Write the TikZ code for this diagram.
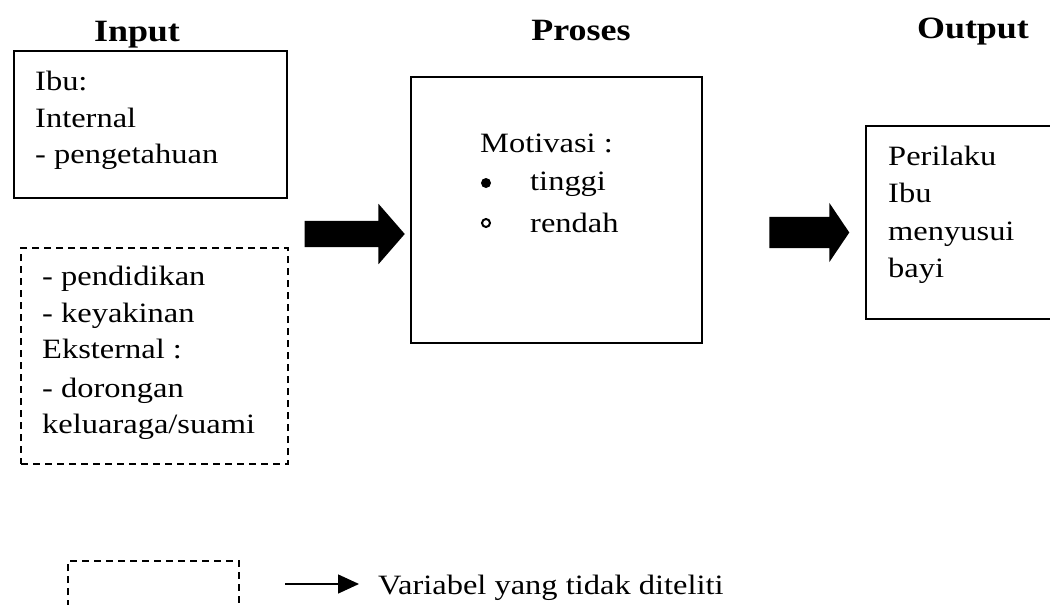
\documentclass[tikz,border=0pt]{standalone}
\usepackage{fontspec}
\setmainfont[FakeStretch=1.16]{Liberation Serif}
\usetikzlibrary{shapes.arrows,arrows.meta}
\tikzset{
  title/.style={anchor=base, inner sep=0pt, font=\fontsize{31}{37}\selectfont\bfseries},
  txt/.style={anchor=base west, inner sep=0pt, font=\fontsize{28}{37}\selectfont},
  solidbox/.style={draw=black, line width=2pt},
  dashbox/.style={draw=black, line width=2pt, dash pattern=on 7pt off 5pt},
  blockarrow/.style={single arrow, fill=black, draw=none, inner xsep=0pt, minimum width=0pt, minimum height=#1},
  dotb/.style={circle, fill=black, inner sep=0pt, minimum size=10pt},
  dotw/.style={circle, draw=black, line width=2pt, fill=white, inner sep=0pt, minimum size=8pt}
}
\begin{document}
\begin{tikzpicture}[x=1pt,y=-1pt]
\useasboundingbox (0,0) rectangle (1050,605);
\fill[white] (0,0) rectangle (1050,605);
% titles
\node[title] (tin) at (137,41) {Input};
\node[title] (tpr) at (581,40) {Proses};
\node[title] (tout) at (973,38) {Output};
% input box (solid)
\node[solidbox, anchor=north west, minimum width=273pt, minimum height=147pt, inner sep=0pt] (ibu) at (13,50) {};
\node[txt] (i1) at (35,90) {Ibu:};
\node[txt] (i2) at (35,127) {Internal};
\node[txt] (i3) at (35,163) {- pengetahuan};
% dashed input box
\node[dashbox, anchor=north west, minimum width=267pt, minimum height=216pt, inner sep=0pt] (ext) at (20,247) {};
\node[txt] (e1) at (42,285) {- pendidikan};
\node[txt] (e2) at (42,322) {- keyakinan};
\node[txt] (e3) at (42,358) {Eksternal :};
\node[txt] (e4) at (42,397) {- dorongan};
\node[txt] (e5) at (42,433) {keluaraga/suami};
% arrow 1
\node[blockarrow=100pt, inner ysep=13pt, single arrow head extend=17pt, single arrow tip angle=98] (a1) at (349,234) {};
% proses box
\node[solidbox, anchor=north west, minimum width=291pt, minimum height=266pt, inner sep=0pt] (pro) at (410,76) {};
\node[txt] (m1) at (480,152) {Motivasi :};
\node[dotb] (b1) at (486,183) {};
\node[txt] (m2) at (530,190) {tinggi};
\node[dotw] (b2) at (486,223) {};
\node[txt] (m3) at (530,232) {rendah};
% arrow 2
\node[blockarrow=80pt, inner ysep=15.5pt, single arrow head extend=14pt, single arrow tip angle=112] (a2) at (804,232.5) {};
% output box (cut at the right edge)
\draw[line width=2pt] (1052,126) -| (866,319) -- (1052,319);
\node[txt] (o1) at (888,165) {Perilaku};
\node[txt] (o2) at (888,202) {Ibu};
\node[txt] (o3) at (888,240) {menyusui};
\node[txt] (o4) at (888,277) {bayi};
% legend
\draw[line width=2pt, dash pattern=on 7pt off 5pt] (68,607) |- (239,561) -- (239,607);
\coordinate (ls) at (285,584);
\node[txt] (lt) at (378,594) {Variabel yang tidak diteliti};
\draw[line width=1.5pt, -{Triangle[length=21pt,width=19pt]}] (ls) -- (359,584);
\end{tikzpicture}
\end{document}
